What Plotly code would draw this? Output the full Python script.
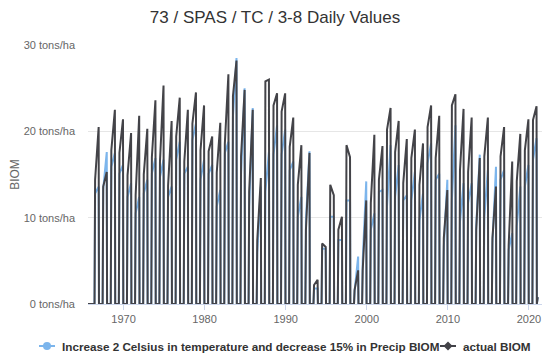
import plotly.graph_objects as go

# ---- data (tons/ha) ----
years = list(range(1966, 2021))

actual_mid = [14.4, 13.6, 17.8, 17.5, 14.9, 12.6, 15.0, 17.0, 16.5, 13.7,
              19.4, 16.5, 20.9, 17.8, 17.7, 15.2, 18.6, 24.1, 17.1, 13.0,
              7.4, 25.8, 23.0, 22.3, 18.2, 13.8, 8.6, 2.2, 7.0, 13.8,
              8.6, 18.4, 1.6, 3.9, 11.7, 14.4, 20.2, 17.6, 14.0, 16.9,
              13.8, 20.5, 16.9, 7.6, 23.0, 15.5, 15.3, 8.6, 17.1, 7.6,
              17.1, 6.8, 14.2, 17.8, 21.3]
actual_peak = [20.5, 15.3, 22.5, 21.4, 19.8, 21.8, 20.3, 23.6, 25.3, 21.2,
               23.9, 22.5, 24.5, 23.0, 19.4, 21.0, 26.6, 28.2, 24.8, 22.5,
               14.6, 26.0, 24.4, 24.4, 21.6, 18.4, 17.5, 2.8, 6.6, 12.6,
               10.1, 17.0, 3.9, 12.0, 19.6, 18.3, 22.7, 21.2, 19.1, 20.2,
               18.6, 23.0, 21.8, 13.2, 24.3, 22.6, 21.6, 16.9, 21.6, 13.6,
               20.5, 16.5, 19.7, 21.4, 22.9]
scen_mid = [12.8, 13.3, 15.9, 15.1, 12.4, 10.5, 12.8, 15.1, 14.7, 12.4,
            16.7, 15.1, 19.0, 14.4, 15.1, 11.3, 17.5, 21.7, 15.0, 11.3,
            6.0, 13.0, 17.3, 17.3, 15.5, 10.1, 9.7, 1.8, 6.4, 10.1,
            7.4, 12.0, 1.5, 5.0, 8.6, 13.0, 11.3, 12.4, 12.0, 12.0,
            9.7, 16.3, 14.4, 6.6, 12.0, 9.5, 11.7, 9.0, 10.1, 7.0,
            14.4, 6.3, 9.0, 13.6, 16.7]
scen_peak = [13.6, 17.6, 17.5, 16.1, 14.0, 12.4, 14.4, 16.9, 16.7, 13.6,
             18.8, 15.9, 20.9, 16.7, 16.1, 13.2, 18.8, 28.5, 25.0, 22.7,
             13.6, 17.6, 20.7, 20.2, 16.5, 12.4, 17.7, 1.8, 6.4, 10.1,
             7.4, 12.0, 5.5, 14.2, 10.5, 13.2, 18.4, 16.1, 12.6, 15.3,
             12.8, 18.6, 15.1, 14.4, 20.7, 14.0, 14.0, 17.3, 15.5, 15.9,
             15.5, 8.2, 13.6, 16.1, 19.2]
first_date = "1965-08-15"
last_date = "2021-02-01"
last_actual = 0.8
last_scen = 0.8
axis_end = "2021-09-25"

tick_years = [1970, 1980, 1990, 2000, 2010, 2020]
y_ticks = [0, 10, 20, 30]

name_scen = "Increase 2 Celsius in temperature and decrease 15% in Precip BIOM"
name_act = "actual BIOM"

# season key dates within each year
START, MID, PEAK, END = "06-05", "07-01", "12-08", "12-22"


def build(mids, peaks, last_val):
    xs, ys = [first_date], [0]
    for y, m, p in zip(years, mids, peaks):
        xs += [f"{y}-{START}", f"{y}-{MID}", f"{y}-{PEAK}", f"{y}-{END}"]
        ys += [0, m, p, 0]
    xs.append(last_date)
    ys.append(last_val)
    return xs, ys


BLUE = "#7cb5ec"
DARK = "#434348"
W, H = 550, 362
OFF = 8  # the page body margin shifts the figure by 8px right and down
# plot area wanted on the page: x 88..543, y 45..304
ML, MT = 88 - OFF, 45 - OFF
MR, MB = W - (543 - OFF), H - (304 - OFF)
PW, PH = W - ML - MR, H - MT - MB

fig = go.Figure()
xs, ys = build(scen_mid, scen_peak, last_scen)
fig.add_trace(go.Scatter(x=xs, y=ys, mode="lines", name=name_scen,
                         line=dict(color=BLUE, width=2), showlegend=False, hoverinfo="skip"))
xs, ys = build(actual_mid, actual_peak, last_actual)
fig.add_trace(go.Scatter(x=xs, y=ys, mode="lines", name=name_act,
                         line=dict(color=DARK, width=2), showlegend=False, hoverinfo="skip"))


# ---- legend drawn in paper space (one row, Highcharts style) ----
def px(page_x):
    return (page_x - OFF - ML) / PW


def py(page_y):
    return (H - MB - (page_y - OFF)) / PH


LEG_Y = 346
LEG_FONT = dict(size=11.7, color="#333333", family="Liberation Sans, Arial, sans-serif",
                weight="bold")
legend_items = [(name_scen, BLUE, "circle", 39), (name_act, DARK, "diamond", 440)]
for label, col, sym, x0 in legend_items:
    fig.add_shape(type="line", xref="paper", yref="paper",
                  x0=px(x0), x1=px(x0 + 16), y0=py(LEG_Y), y1=py(LEG_Y),
                  line=dict(color=col, width=2))
    cx = x0 + 8
    if sym == "circle":
        fig.add_shape(type="circle", xref="paper", yref="paper",
                      x0=px(cx - 4), x1=px(cx + 4), y0=py(LEG_Y + 4), y1=py(LEG_Y - 4),
                      fillcolor=col, line=dict(width=0))
    else:
        fig.add_shape(type="path", xref="paper", yref="paper",
                      path=(f"M {px(cx)} {py(LEG_Y - 4.5)} L {px(cx + 4.5)} {py(LEG_Y)} "
                            f"L {px(cx)} {py(LEG_Y + 4.5)} L {px(cx - 4.5)} {py(LEG_Y)} Z"),
                      fillcolor=col, line=dict(width=0))
    fig.add_annotation(text=label, xref="paper", yref="paper", x=px(x0 + 21), y=py(LEG_Y),
                       xanchor="left", yanchor="middle", showarrow=False, font=LEG_FONT)

fig.update_layout(
    width=W, height=H,
    margin=dict(l=ML, r=MR, t=MT, b=MB),
    paper_bgcolor="white", plot_bgcolor="white",
    font=dict(family="Liberation Sans, Arial, sans-serif", color="#666666"),
    title=dict(text="73 / SPAS / TC / 3-8 Daily Values",
               x=(275 - OFF) / W, xanchor="center", xref="container",
               y=1 - (17 - OFF) / H, yanchor="middle", yref="container",
               font=dict(size=17, color="#333333")),
    showlegend=False,
)
fig.update_xaxes(
    type="date", range=[first_date, axis_end], automargin=False,
    tickvals=[f"{y}-01-01" for y in tick_years], ticktext=[str(y) for y in tick_years],
    showgrid=False, showline=True, linecolor="#ccd6eb", linewidth=1,
    ticks="outside", ticklen=5, tickcolor="#ccd6eb",
    tickfont=dict(size=11, color="#666666"), zeroline=False,
)
fig.update_yaxes(
    range=[0, 30], tickvals=y_ticks, ticktext=[f"{v} tons/ha" for v in y_ticks],
    showgrid=True, gridcolor="#e6e6e6", gridwidth=1, zeroline=False, automargin=False,
    tickfont=dict(size=11, color="#666666"), ticks="", ticklabelstandoff=12,
    title=dict(text="BIOM", font=dict(size=12, color="#666666"), standoff=5),
)

fig.write_html("out.html")
